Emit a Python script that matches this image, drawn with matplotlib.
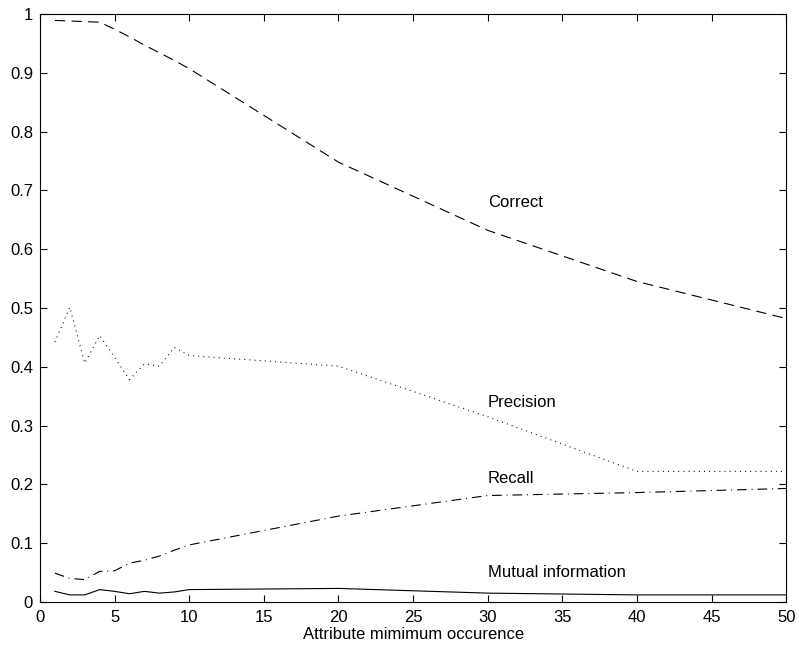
import matplotlib
matplotlib.use('Agg')
import matplotlib.pyplot as plt

# attribute minimum occurrence (x)
occ = [1, 2, 3, 4, 5, 6, 7, 8, 9, 10, 20, 30, 40, 50]

correct = [0.989, 0.988, 0.987, 0.986, 0.974, 0.961, 0.947, 0.934, 0.921, 0.907,
           0.748, 0.632, 0.545, 0.482]
precision = [0.442, 0.501, 0.406, 0.453, 0.416, 0.378, 0.405, 0.401, 0.433, 0.419,
             0.401, 0.315, 0.222, 0.222]
recall = [0.049, 0.040, 0.038, 0.052, 0.053, 0.066, 0.071, 0.078, 0.088, 0.097,
          0.146, 0.181, 0.186, 0.193]
mutual = [0.018, 0.012, 0.012, 0.021, 0.018, 0.014, 0.018, 0.015, 0.017, 0.021,
          0.023, 0.015, 0.012, 0.012]

labels = ['Correct', 'Precision', 'Recall', 'Mutual information']
label_y = [0.68, 0.34, 0.21, 0.05]

plt.rcParams['font.family'] = ['Liberation Sans', 'DejaVu Sans']
plt.rcParams['font.size'] = 12
plt.rcParams['lines.scale_dashes'] = False

fig = plt.figure(figsize=(7.99, 6.49), dpi=100)
ax = fig.add_axes([0.050, 0.0725, 0.934, 0.906])

lw = 0.8
ax.plot(occ, correct, color='black', lw=lw, linestyle=(0, (7.5, 4.5)))
ax.plot(occ, precision, color='black', lw=lw, linestyle=(0, (0.7, 3.0)))
ax.plot(occ, recall, color='black', lw=lw, linestyle=(0, (7.0, 3.5, 0.7, 3.5)))
ax.plot(occ, mutual, color='black', lw=lw, linestyle='-')

for name, yy in zip(labels, label_y):
    ax.text(30, yy, name, ha='left', va='center', fontsize=12)

ax.set_xlim(0, 50)
ax.set_ylim(0, 1)
ax.set_xticks(range(0, 51, 5))
ax.set_yticks([i / 10 for i in range(11)])
ax.set_yticklabels(['0', '0.1', '0.2', '0.3', '0.4', '0.5', '0.6', '0.7', '0.8', '0.9', '1'])
ax.tick_params(direction='in', length=5, width=0.8, top=True, right=True)
ax.tick_params(axis='x', pad=6)
ax.tick_params(axis='y', pad=5)
for sp in ax.spines.values():
    sp.set_linewidth(0.8)
ax.set_xlabel('Attribute mimimum occurence', labelpad=1)

fig.savefig('out.png', dpi=100)
